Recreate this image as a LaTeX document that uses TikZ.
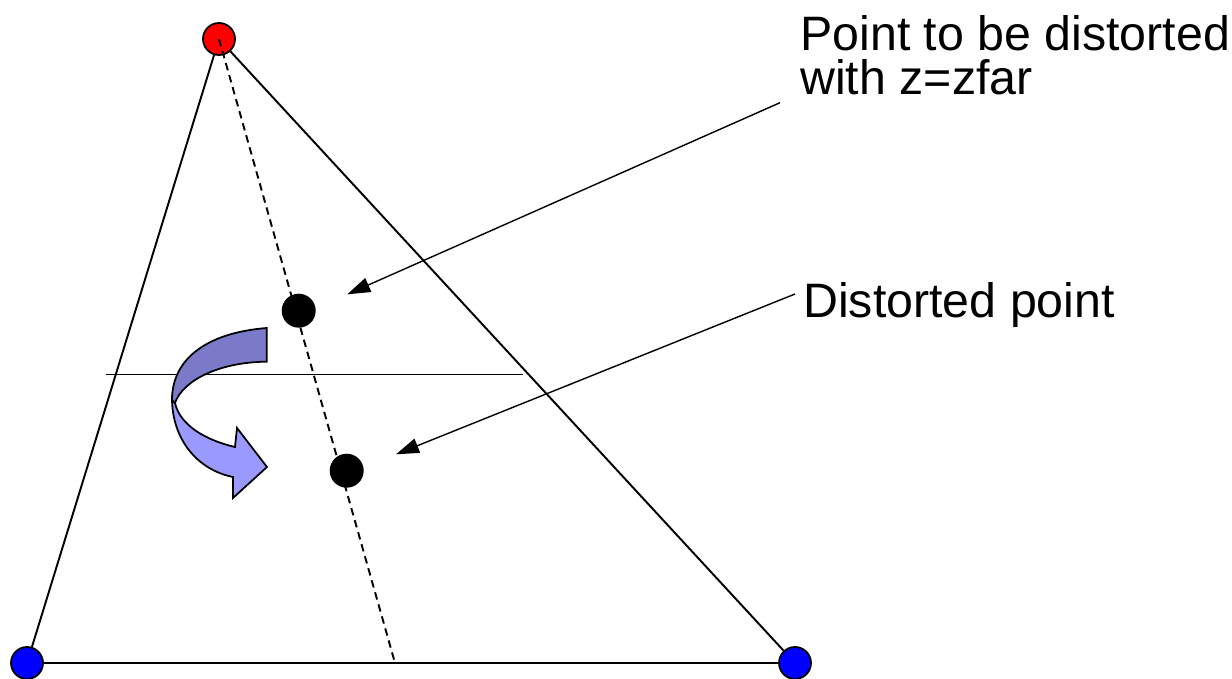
\documentclass[tikz,border=0pt]{standalone}
\usepackage{fontspec}
\setmainfont{Liberation Sans}
\usepackage{xcolor}
\usetikzlibrary{arrows.meta}

\definecolor{ribbondark}{RGB}{122,122,200}
\definecolor{ribbonlight}{RGB}{153,153,255}

\begin{document}
\begin{tikzpicture}[
  x=0.02cm, y=-0.02cm,
  vertex/.style={
    circle, draw=black, line width=1pt,
    minimum size=0.64cm, inner sep=0pt
  },
  sample/.style={circle, fill=black, minimum size=0.68cm, inner sep=0pt},
  edge/.style={line width=1.1pt, black},
  pointer/.style={-{Triangle[length=0.46cm,width=0.3cm]}, line width=0.8pt},
  label/.style={font=\fontsize{27.5}{25}\selectfont, inner sep=0pt, align=left}
]
\useasboundingbox (0,0) rectangle (1232,679);

% Nodes
\node[vertex, fill=red]  (apex)  at (219,39)  {};
\node[vertex, fill=blue] (left)  at (27,663)  {};
\node[vertex, fill=blue] (right) at (795,663) {};
\coordinate (foot) at (395,663);

% Frustum sides
\draw[edge] (left) -- (apex);
\draw[edge] (apex) -- (right);
\draw[edge] (left) -- (right);

% Far plane
\coordinate (farl) at (106,374.5);
\coordinate (farr) at (523,374.5);
\draw[line width=1pt] (farl) -- (farr);

% Projection ray
\draw[line width=1.1pt, dash pattern=on 0.15cm off 0.1cm] (apex.center) -- (foot);

\node[sample] (orig) at (298.7,310.7) {};
\node[sample] (dist) at (346.7,470.7) {};

% Curved arrow (ribbon)
\filldraw[fill=ribbonlight, draw=black, line width=1pt]
  (172,398) .. controls (172,440) and (198,470) .. (233,477)
  -- (233,498) -- (267,467) -- (237,428) -- (235,447)
  .. controls (205,440) and (180,425) .. (175,403) -- cycle;
\filldraw[fill=ribbondark, draw=black, line width=1pt]
  (266.7,328) .. controls (205,333) and (172,360) .. (172,400)
  -- (175,403) .. controls (183,380) and (220,362) .. (266.7,361.7) -- cycle;

% Labels
\node[label, anchor=base west] (farlbl) at (800,94.5) {Point to be distorted\\with z=zfar};
\node[label, anchor=base west] (distlbl) at (803,317) {Distorted point};

% Pointers
\coordinate (p1) at (780,102.7);
\coordinate (tip1) at (347.3,294.3);
\coordinate (p2) at (795,294);
\coordinate (tip2) at (396,454.3);
\draw[pointer] (p1) -- (tip1);
\draw[pointer] (p2) -- (tip2);

\end{tikzpicture}
\end{document}
